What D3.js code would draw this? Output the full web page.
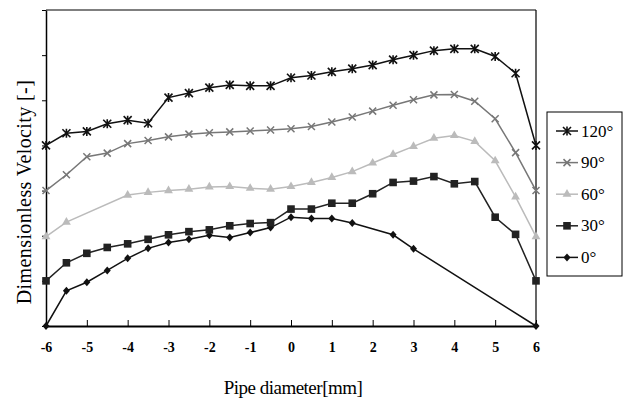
<!DOCTYPE html>
<html><head><meta charset="utf-8">
<script src="https://cdn.jsdelivr.net/npm/d3@7"></script>
<style>body{margin:0;background:#fff}svg{display:block}</style>
</head><body>
<svg id="c" width="630" height="403"></svg>
<script>
const xs = [-6,-5.5,-5,-4.5,-4,-3.5,-3,-2.5,-2,-1.5,-1,-0.5,0,0.5,1,1.5,2,2.5,3,3.5,4,4.5,5,5.5,6];
const v120 = [4.00,4.27,4.31,4.48,4.56,4.49,5.06,5.16,5.28,5.34,5.32,5.32,5.50,5.55,5.63,5.70,5.78,5.90,6.00,6.10,6.14,6.14,5.97,5.60,4.00];
const v90  = [3.00,3.35,3.75,3.83,4.04,4.11,4.19,4.25,4.28,4.30,4.32,4.34,4.37,4.42,4.52,4.63,4.76,4.89,5.01,5.12,5.13,4.98,4.59,3.84,3.00];
const v60  = [1.98,2.30,null,null,2.90,2.96,3.00,3.03,3.08,3.09,3.05,3.03,3.09,3.18,3.29,3.42,3.61,3.80,3.98,4.16,4.22,4.09,3.66,2.86,1.98];
const v30  = [1.00,1.40,1.61,1.74,1.82,1.92,2.02,2.09,2.13,2.22,2.27,2.29,2.59,2.59,2.72,2.72,2.93,3.18,3.21,3.31,3.15,3.20,2.41,2.03,1.00];
const v0   = [0.00,0.78,0.97,1.23,1.50,1.72,1.85,1.92,2.01,1.96,2.07,2.18,2.41,2.38,2.38,2.28,null,2.02,1.71,null,null,null,null,null,0.00];
const xTicks = [-6,-5,-4,-3,-2,-1,0,1,2,3,4,5,6];
const yTicks = [0,1,2,3,4,5,6,7];
const seriesNames = ["120°","90°","60°","30°","0°"];
const seriesVals = [v120,v90,v60,v30,v0];
const colors = ["#111","#777","#bbb","#222","#111"];
const markers = ["star","x","tri","sq","dia"];

const svg = d3.select("#c");
const L=46,R=536,T=10,B=326;
const x = d3.scaleLinear().domain([-6,6]).range([L,R]);
const y = d3.scaleLinear().domain([0,7]).range([B,T]);

// frame
svg.append("line").attr("x1",L).attr("x2",R).attr("y1",T).attr("y2",T).attr("stroke","#000").attr("stroke-width",1.2);
svg.append("line").attr("x1",R).attr("x2",R).attr("y1",T).attr("y2",B).attr("stroke","#000").attr("stroke-width",1.2);

// axes
const gx = svg.append("g").attr("transform",`translate(0,${B})`)
  .call(d3.axisBottom(x).tickValues(xTicks).tickSizeInner(-6).tickSizeOuter(0).tickPadding(16).tickFormat(d3.format("d")));
gx.select(".domain").attr("stroke","#000").attr("stroke-width",2);
gx.selectAll(".tick line").attr("stroke","#000").attr("stroke-width",1);
gx.selectAll("text").attr("font-family","'Liberation Serif','Times New Roman',serif").attr("font-size",14).attr("font-weight","bold").attr("fill","#000")
  .text(d=>d<0?"-"+Math.abs(d):d);

const gy = svg.append("g").attr("transform",`translate(${L},0)`)
  .call(d3.axisLeft(y).tickValues(yTicks).tickSizeInner(4).tickSizeOuter(0).tickFormat(""));
gy.select(".domain").attr("stroke","#000").attr("stroke-width",1.5);
gy.selectAll(".tick line").attr("stroke","#000");

// titles
svg.append("text").attr("x",293).attr("y",394).attr("text-anchor","middle")
  .attr("font-family","'Liberation Serif','Times New Roman',serif").attr("font-size",19).attr("letter-spacing",-0.5)
  .text("Pipe diameter[mm]");
svg.append("text").attr("transform","translate(31,192) rotate(-90)").attr("text-anchor","middle")
  .attr("font-family","'Liberation Serif','Times New Roman',serif").attr("font-size",20).attr("letter-spacing",0.4)
  .text("Dimensionless Velocity [-]");

function drawMarker(g, type, cx, cy, color){
  if(type==="star"){
    const s=4;
    g.append("path").attr("d",`M${cx-s},${cy-s}L${cx+s},${cy+s}M${cx-s},${cy+s}L${cx+s},${cy-s}M${cx},${cy-s-0.5}L${cx},${cy+s+0.5}`)
      .attr("stroke",color).attr("stroke-width",1.6).attr("fill","none");
  } else if(type==="x"){
    const s=3.5;
    g.append("path").attr("d",`M${cx-s},${cy-s}L${cx+s},${cy+s}M${cx-s},${cy+s}L${cx+s},${cy-s}`)
      .attr("stroke",color).attr("stroke-width",1.5).attr("fill","none");
  } else if(type==="tri"){
    g.append("path").attr("d",d3.symbol(d3.symbolTriangle,34)()).attr("transform",`translate(${cx},${cy})`).attr("fill",color);
  } else if(type==="sq"){
    g.append("rect").attr("x",cx-3.8).attr("y",cy-3.8).attr("width",7.6).attr("height",7.6).attr("fill",color);
  } else if(type==="dia"){
    g.append("path").attr("d",`M${cx},${cy-4}L${cx+3.5},${cy}L${cx},${cy+4}L${cx-3.5},${cy}Z`).attr("fill",color);
  }
}

const line = d3.line().x(d=>x(d[0])).y(d=>y(d[1]));
for(let i=seriesVals.length-1;i>=0;i--){
  const pts = xs.map((xv,j)=>[xv,seriesVals[i][j]]).filter(p=>p[1]!==null);
  const g = svg.append("g");
  g.append("path").attr("d",line(pts)).attr("fill","none").attr("stroke",colors[i]).attr("stroke-width",1.5);
  pts.forEach(p=>drawMarker(g,markers[i],x(p[0]),y(p[1]),colors[i]));
}

// legend
const lg = svg.append("g");
lg.append("rect").attr("x",547).attr("y",112).attr("width",75).attr("height",164).attr("fill","#fff").attr("stroke","#000").attr("stroke-width",1);
seriesNames.forEach((n,i)=>{
  const cy = 131 + i*31.6;
  lg.append("line").attr("x1",556).attr("x2",578).attr("y1",cy).attr("y2",cy).attr("stroke",colors[i]).attr("stroke-width",1.5);
  drawMarker(lg,markers[i],567,cy,colors[i]);
  lg.append("text").attr("x",581).attr("y",cy+5.5).attr("font-family","'Liberation Serif','Times New Roman',serif").attr("font-size",17).attr("fill","#000").text(n);
});
</script>
</body></html>
